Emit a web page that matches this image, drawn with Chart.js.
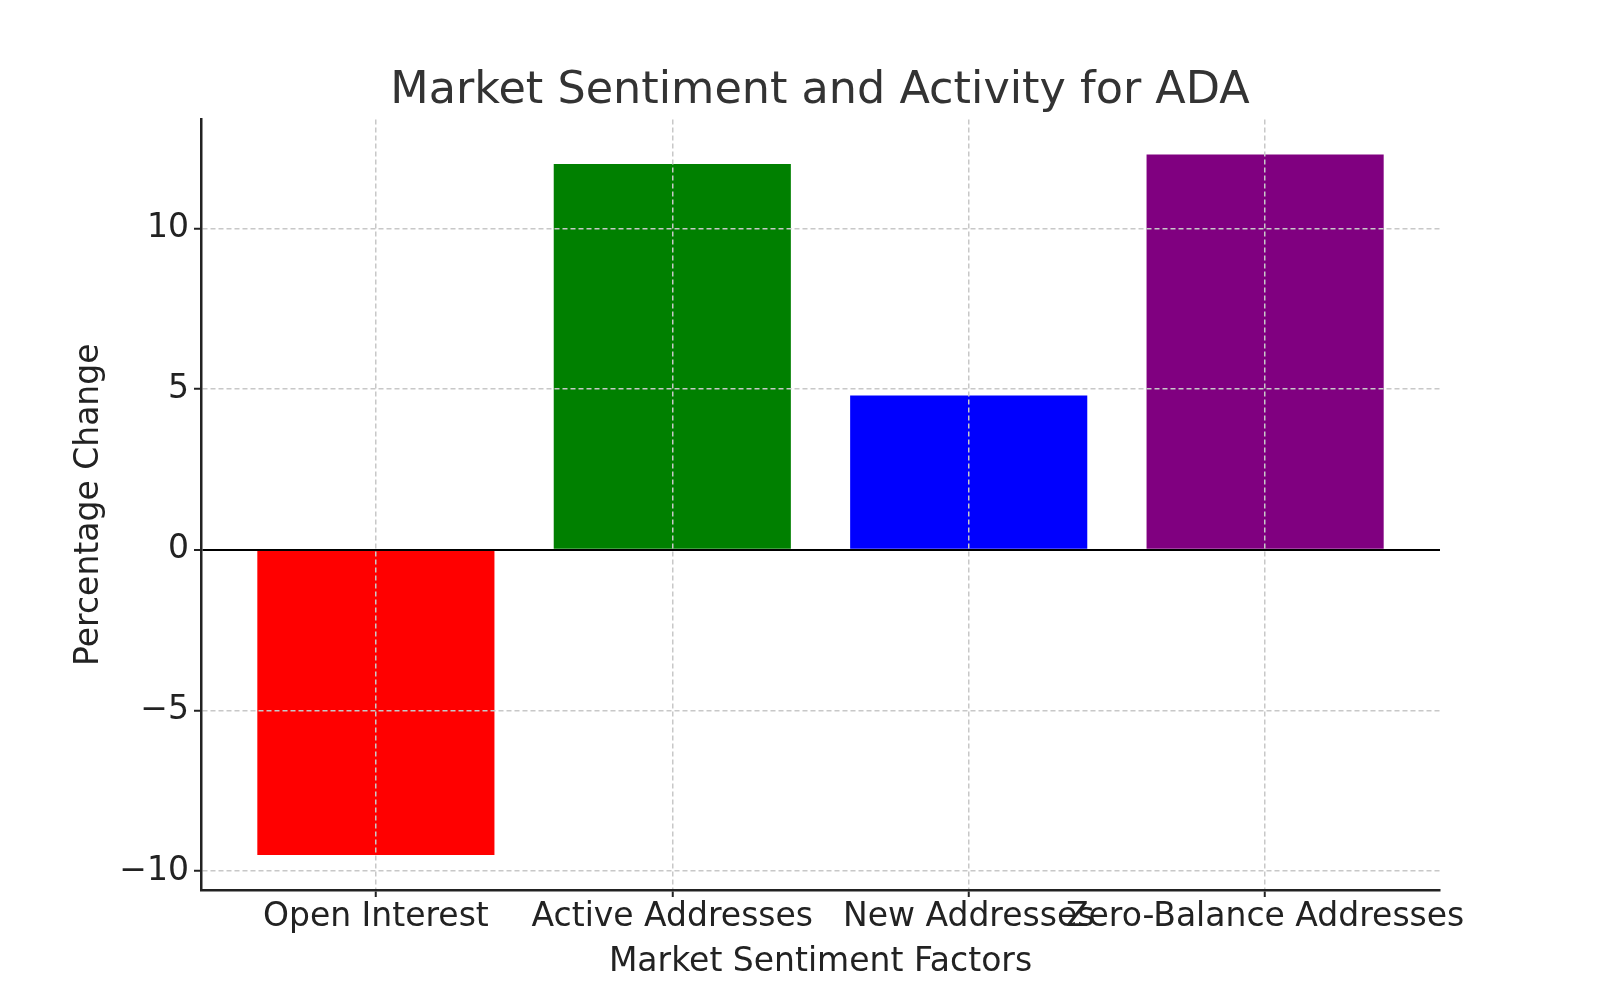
<!DOCTYPE html>
<html>
<head>
<meta charset="utf-8">
<script src="https://cdn.jsdelivr.net/npm/chart.js@4.4.0/dist/chart.umd.min.js"></script>
<style>
  html, body { margin: 0; padding: 0; background: #fff; }
  #wrap { width: 1600px; height: 1000px; }
</style>
</head>
<body>
<div id="wrap"><canvas id="chart" width="1600" height="1000"></canvas></div>
<script>
// values
const factors = ['Open Interest', 'Active Addresses', 'New Addresses', 'Zero-Balance Addresses'];
const changes = [-9.5, 12.0, 4.8, 12.3];
const barColors = ['red', 'green', 'blue', 'purple'];
const yTicks = [-10, -5, 0, 5, 10];

const FONT = "'DejaVu Sans', sans-serif";
const ink = '#222';

const ctx = document.getElementById('chart').getContext('2d');
new Chart(ctx, {
    type: 'bar',
    data: {
        datasets: [{
            data: factors.map((f, i) => ({x: i, y: changes[i]})),
            backgroundColor: barColors,
            borderWidth: 0,
            barPercentage: 0.8,
            categoryPercentage: 1.0
        }]
    },
    options: {
        responsive: false,
        animation: false,
        // left padding of 40 and an empty 160px right axis keep the title centred over the plot
        layout: {padding: {left: 40, right: 0, top: 0, bottom: 0}},
        plugins: {
            legend: {display: false},
            tooltip: {enabled: false},
            title: {
                display: true,
                text: 'Market Sentiment and Activity for ADA',
                color: '#333',
                font: {family: FONT, size: 44.5, weight: 'normal', lineHeight: 1.2},
                padding: {top: 65, bottom: 1}
            }
        },
        scales: {
            x: {
                type: 'linear',
                position: 'bottom',
                offset: false,
                min: -0.59,
                max: 3.59,
                afterBuildTicks: s => { s.ticks = factors.map((f, i) => ({value: i})); },
                afterFit: s => { s.height = 110; },
                ticks: {
                    autoSkip: false,
                    maxRotation: 0,
                    minRotation: 0,
                    padding: 4,
                    color: ink,
                    font: {family: FONT, size: 33, lineHeight: 1},
                    callback: v => factors[v]
                },
                grid: {
                    z: 1,
                    offset: false,
                    color: '#c8c8c8',
                    lineWidth: 1.5,
                    tickColor: ink,
                    tickWidth: 2,
                    tickLength: 7
                },
                border: {display: true, z: 2, color: ink, width: 2.5, dash: [5, 3]},
                title: {
                    display: true,
                    text: 'Market Sentiment Factors',
                    color: ink,
                    font: {family: FONT, size: 33, lineHeight: 1.2},
                    padding: {top: 0, bottom: 18}
                }
            },
            y: {
                position: 'left',
                min: -10.59,
                max: 13.39,
                afterBuildTicks: s => { s.ticks = yTicks.map(v => ({value: v})); },
                afterFit: s => { s.width = 161; },
                ticks: {
                    padding: 5,
                    color: ink,
                    font: {family: FONT, size: 33},
                    callback: v => v < 0 ? '\u2212' + Math.abs(v) : String(v)
                },
                grid: {
                    z: 1,
                    color: c => (c.tick && c.tick.value === 0) ? '#000' : '#c8c8c8',
                    lineWidth: c => (c.tick && c.tick.value === 0) ? 2 : 1.5,
                    tickColor: ink,
                    tickWidth: 2,
                    tickLength: 7
                },
                border: {
                    display: true,
                    z: 2,
                    color: ink,
                    width: 2.5,
                    dash: c => (c.tick && c.tick.value === 0) ? [] : [5, 3]
                },
                title: {
                    display: true,
                    text: 'Percentage Change',
                    color: ink,
                    font: {family: FONT, size: 33, lineHeight: 1.2},
                    padding: {top: 30, bottom: 0}
                }
            },
            yRight: {
                type: 'linear',
                position: 'right',
                afterFit: s => { s.width = 160; },
                grid: {display: false},
                ticks: {display: false},
                border: {display: false}
            }
        }
    }
});
</script>
</body>
</html>
